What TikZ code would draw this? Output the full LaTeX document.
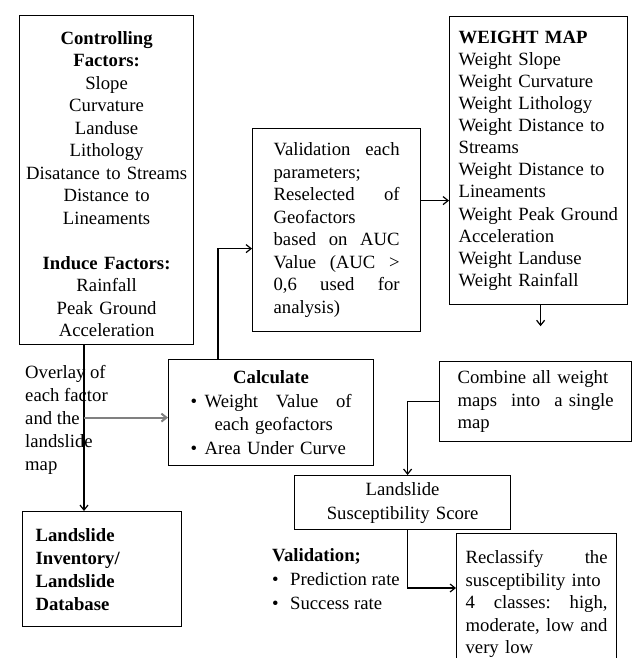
\documentclass[tikz,border=0pt]{standalone}
\usepackage{fontspec}
\setmainfont{Liberation Serif}
\usetikzlibrary{arrows.meta,calc}
\begin{document}
\begin{tikzpicture}[x=1pt,y=-1pt,
  txt/.style={font=\fontsize{18.7}{22.5}\selectfont},
  box/.style={txt, draw, line width=1.2pt, anchor=north west, inner ysep=0pt},
  arr/.style={line width=1.2pt, -{Straight Barb[length=5pt,width=8pt]}},
  grayarr/.style={line width=2pt, draw=gray, -{Straight Barb[length=5pt,width=8pt]}},
]
\useasboundingbox (0,0) rectangle (634,658);

\node[box, minimum width=174pt, minimum height=329pt, text width=170pt, inner xsep=2pt, align=center] (cf) at (19,15)
  {\rule{0pt}{21pt}\textbf{Controlling}\\\textbf{Factors:}\\Slope\\Curvature\\Landuse\\Lithology\\Disatance to Streams\\Distance to\\Lineaments\\[22.5pt]\textbf{Induce Factors:}\\Rainfall\\Peak Ground\\Acceleration};

\node[box, minimum width=168pt, minimum height=203pt, text width=126pt, inner xsep=21pt, align=left] (val) at (252,128)
  {Validation\hfill each\\parameters;\\Reselected\hfill of\\Geofactors\\based\hfill on\hfill AUC\\Value\hfill (AUC\hfill >\\0,6\hfill used\hfill for\\analysis)};

\node[box, font=\fontsize{18.7}{22.1}\selectfont, minimum width=178pt, minimum height=288pt, text width=160pt, inner xsep=9pt, align=left] (wm) at (449,16)
  {\textbf{WEIGHT MAP}\\Weight Slope\\Weight Curvature\\Weight Lithology\\Weight Distance to\\Streams\\Weight Distance to\\Lineaments\\Weight Peak Ground\\Acceleration\\Weight Landuse\\Weight Rainfall};

\node[box, font=\fontsize{18.7}{23.7}\selectfont, minimum width=205pt, minimum height=106pt, text width=161pt, inner xsep=22pt, align=left] (calc) at (168,359)
  {\hfill\textbf{Calculate}\hfill\mbox{}\\\makebox[14pt][l]{\textbullet}Weight\hfill Value\hfill of\\\hspace*{24pt}each geofactors\\\makebox[14pt][l]{\textbullet}Area Under Curve};

\node[box, minimum width=192pt, minimum height=80pt, text width=156pt, inner xsep=18pt, align=left] (comb) at (439,361)
  {\mbox{Combine all weight}\\maps\hfill into\hfill a single\\map};

\node[box, font=\fontsize{18.7}{23}\selectfont\bfseries, minimum width=159pt, minimum height=115pt, text width=133pt, inner xsep=13pt, align=left] (inv) at (22,511)
  {Landslide\\Inventory/\\Landslide\\Database};

\node[box, font=\fontsize{18.7}{24}\selectfont, minimum width=216pt, minimum height=54pt, text width=212pt, inner xsep=2pt, align=center] (score) at (294,475)
  {Landslide\\Susceptibility Score};

\node[box, text width=142pt, inner xsep=9pt, inner ysep=17pt, align=left] (recl) at (456,533)
  {Reclassify\hfill the\\susceptibility into\\4\hfill classes:\hfill high,\\moderate, low and\\very low};

\node[txt, font=\fontsize{18.7}{23}\selectfont, anchor=north west, inner sep=0pt, align=left] (ovtext) at (25,365)
  {Overlay of\\each factor\\and the\\landslide\\map};

\node[txt, font=\fontsize{18.7}{24}\selectfont, anchor=north west, inner sep=0pt, align=left] (valtext) at (272,548)
  {\textbf{Validation;}\\\makebox[18pt][l]{\textbullet}Prediction rate\\\makebox[18pt][l]{\textbullet}Success rate};

% connectors
\coordinate (vx) at ($(cf.south west)+(65,0)$);
\draw[arr] (vx) -- (vx |- inv.north);
\coordinate (cv) at ($(calc.west)+(0,5)$);
\draw[grayarr] (vx |- cv) -- (cv);
\coordinate (ct) at ($(calc.north west)+(50,0)$);
\coordinate (vw) at ($(val.west)+(0,18.5)$);
\draw[arr] (ct) |- (vw);
\coordinate (va) at ($(val.east)+(0,-29.5)$);
\draw[arr] (va) -- (va -| wm.west);
\coordinate (ws) at ($(wm.south)+(2,0)$);
\coordinate (wmend) at ($(wm.south)+(2,21)$);
\draw[arr] (ws) -- (wmend);
\coordinate (sn) at ($(score.north)+(5,0)$);
\draw[arr] (comb.west) -| (sn);
\coordinate (ss) at ($(score.south)+(5,0)$);
\coordinate (rr) at ($(recl.north west)+(0,55)$);
\draw[arr] (ss) |- (rr);
\end{tikzpicture}
\end{document}
